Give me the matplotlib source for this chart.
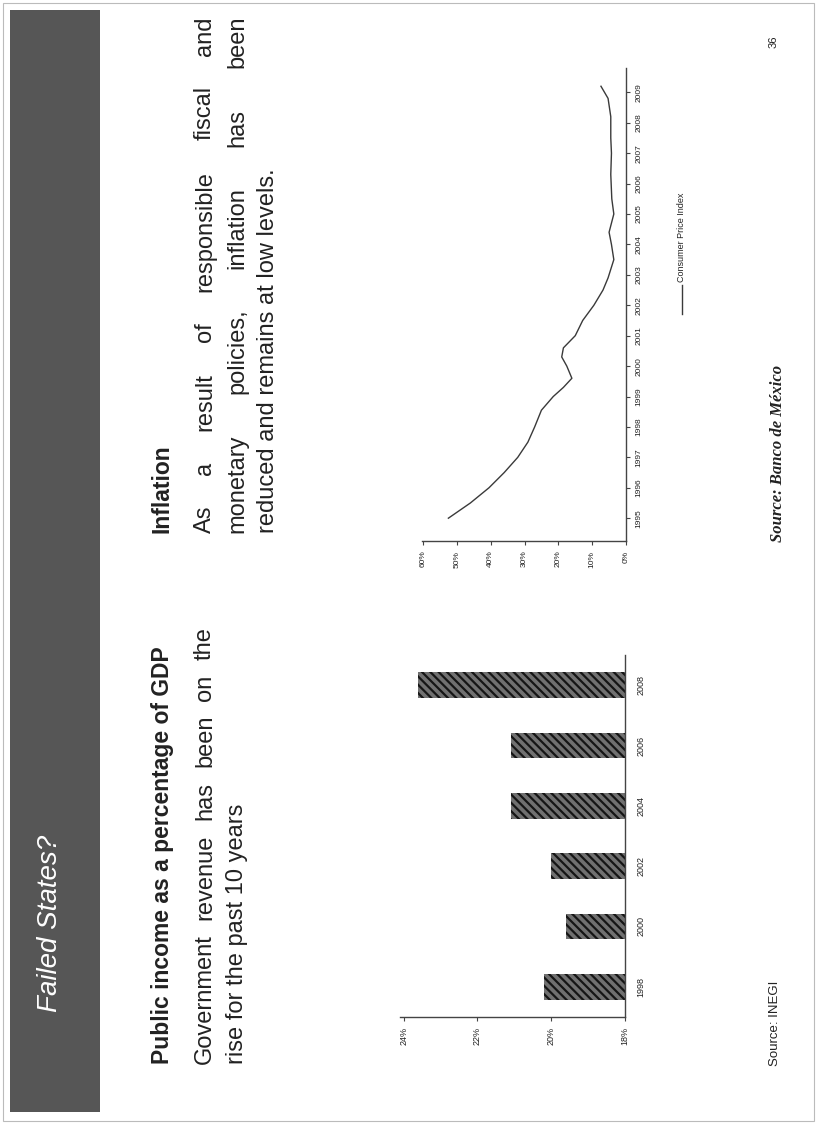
import matplotlib
matplotlib.use("Agg")
import matplotlib.pyplot as plt
from matplotlib.patches import Rectangle
from matplotlib.lines import Line2D

W, H = 817, 1124
DPI = 100

# Public income as a percentage of GDP
income_years = ["1998", "2000", "2002", "2004", "2006", "2008"]
income_pct = [20.2, 19.6, 20.0, 21.1, 21.1, 23.6]
income_ticks = [18, 20, 22, 24]

# Consumer price index, annual inflation
cpi_label = "Consumer Price Index"
cpi_years = ["1995", "1996", "1997", "1998", "1999", "2000", "2001", "2002",
             "2003", "2004", "2005", "2006", "2007", "2008", "2009"]
cpi_period = [0.0, 0.5, 1.0, 1.5, 2.0, 2.5, 3.0, 3.55, 4.0, 4.3, 4.6, 5.0, 5.3,
              5.6, 6.0, 6.5, 7.0, 7.5, 7.9, 8.5, 9.0, 9.4, 10.0, 10.5, 11.3,
              12.0, 12.5, 13.2, 13.8, 14.2]
cpi_pct = [52.5, 46.0, 40.5, 36.0, 32.0, 29.0, 27.0, 25.0, 21.5, 18.5, 16.0,
           17.5, 19.0, 18.5, 15.0, 12.8, 9.5, 6.8, 5.3, 3.6, 4.3, 5.0, 3.6,
           4.2, 4.5, 4.3, 4.5, 4.5, 5.3, 7.4]
cpi_ticks = [0, 10, 20, 30, 40, 50, 60]

TEXT = "#222222"
SANS = ["Liberation Sans", "DejaVu Sans"]
SERIF = ["Liberation Serif", "DejaVu Serif"]
plt.rcParams["hatch.linewidth"] = 1.6

fig = plt.figure(figsize=(W / DPI, H / DPI), dpi=DPI)
fig.patch.set_facecolor("white")


def fx(x):
    return x / W


def fy(y):
    return 1 - y / H


renderer = fig.canvas.get_renderer()


def vtext(s, x, y_start, y_end=None, **kw):
    """Vertical text reading upward from y_start; justified up to y_end if given."""
    if y_end is None:
        fig.text(fx(x), fy(y_start), s, rotation=90, ha="center", va="bottom", **kw)
        return
    words = s.split()
    arts = [fig.text(0, 0, w, rotation=90, ha="center", va="bottom", **kw) for w in words]
    lens = [a.get_window_extent(renderer).height for a in arts]
    gap = ((y_start - y_end) - sum(lens)) / max(len(words) - 1, 1)
    pos = y_start
    for a, L in zip(arts, lens):
        a.set_position((fx(x), fy(pos)))
        pos -= L + gap


# slide frame and title band
fig.patches.append(Rectangle((fx(3), fy(1121)), 811 / W, 1118 / H, transform=fig.transFigure,
                             fill=False, edgecolor="#bbbbbb", lw=0.8))
fig.patches.append(Rectangle((fx(10), fy(1112)), 90 / W, 1102 / H, transform=fig.transFigure,
                             facecolor="#565656", edgecolor="none"))
vtext("Failed States?", 50, 1012, color="white", fontsize=20, style="italic", family=SANS)

# left column text
vtext("Public income as a percentage of GDP", 162, 1064, fontsize=16.5, weight="bold",
      family=SANS, color=TEXT)
vtext("Government revenue has been on the", 205, 1064, 627, fontsize=17, family=SANS, color=TEXT)
vtext("rise for the past 10 years", 237, 1064, fontsize=17, family=SANS, color=TEXT)

# right column text
vtext("Inflation", 162, 533, fontsize=16.5, weight="bold", family=SANS, color=TEXT)
vtext("As a result of responsible fiscal and", 205, 533, 16, fontsize=17, family=SANS, color=TEXT)
vtext("monetary policies, inflation has been", 237, 533, 16, fontsize=17, family=SANS, color=TEXT)
vtext("reduced and remains at low levels.", 268, 533, fontsize=17, family=SANS, color=TEXT)

# bar chart: public income
ax1 = fig.add_axes([fx(400), fy(1017), 225 / W, 362 / H])
ax1.barh(range(len(income_pct)), income_pct, height=0.43, facecolor="#707070",
         edgecolor="#151515", hatch="\\\\\\\\", linewidth=0)
ax1.set_xlim(24.1, 18)
ax1.set_ylim(-0.5, len(income_pct) - 0.5)
ax1.set_xticks(income_ticks)
ax1.set_xticklabels([f"{t}%" for t in income_ticks], rotation=90, fontsize=6.5,
                    family=SANS, color=TEXT)
ax1.yaxis.tick_right()
ax1.set_yticks(range(len(income_years)))
ax1.set_yticklabels(income_years, rotation=90, va="center", fontsize=6.5, family=SANS, color=TEXT)
ax1.tick_params(axis="y", length=0, pad=8)
ax1.tick_params(axis="x", length=3, color="#444444", pad=4)
for side in ("top", "left"):
    ax1.spines[side].set_visible(False)
for side in ("bottom", "right"):
    ax1.spines[side].set_color("#444444")
    ax1.spines[side].set_linewidth(1.0)
ax1.patch.set_alpha(0)

# line chart: inflation
ax2 = fig.add_axes([fx(422), fy(541), 204 / W, 473 / H])
ax2.plot(cpi_pct, cpi_period, color="#3a3a3a", lw=1.0)
ax2.set_xlim(60.3, 0)
ax2.set_ylim(-0.75, 14.8)
ax2.set_xticks(cpi_ticks)
ax2.set_xticklabels([f"{t}%" for t in cpi_ticks], rotation=90, fontsize=6,
                    family=SANS, color=TEXT)
ax2.yaxis.tick_right()
ax2.set_yticks(range(len(cpi_years)))
ax2.set_yticklabels(cpi_years, rotation=90, va="center", fontsize=6, family=SANS, color=TEXT)
ax2.tick_params(axis="y", length=3, color="#444444", pad=4)
ax2.tick_params(axis="x", length=3, color="#444444", pad=4)
for side in ("top", "left"):
    ax2.spines[side].set_visible(False)
for side in ("bottom", "right"):
    ax2.spines[side].set_color("#444444")
    ax2.spines[side].set_linewidth(1.0)
ax2.patch.set_alpha(0)

# legend for the inflation series
fig.add_artist(Line2D([fx(682), fx(682)], [fy(314), fy(285)], transform=fig.transFigure,
                      color="#3a3a3a", lw=1.0))
vtext(cpi_label, 682, 282, fontsize=6.5, family=SANS, color=TEXT)

# sources and page number
vtext("Source: INEGI", 775, 1066, fontsize=9.5, family=SANS, color=TEXT)
vtext("Source: Banco de México", 778, 542, fontsize=12, family=SERIF, style="italic",
      weight="bold", color=TEXT)
vtext("36", 774, 48, fontsize=8, family=SANS, color=TEXT)

fig.savefig("out.png", dpi=DPI)
